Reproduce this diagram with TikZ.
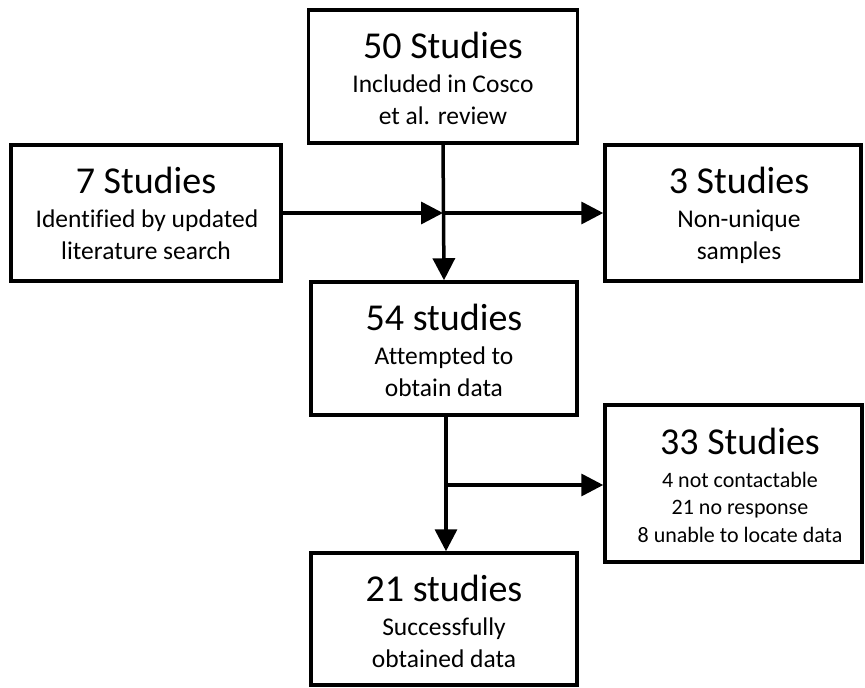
\documentclass[tikz,border=0pt]{standalone}
\usepackage{fontspec}
\setmainfont[Ligatures=NoCommon]{Carlito}
\usetikzlibrary{arrows.meta}
\tikzset{
  box/.style={draw=black, line width=3.5pt, inner sep=0pt, fill=white},
  ttl/.style={anchor=base, inner sep=0pt, font=\fontsize{38}{40}\selectfont},
  subt/.style={anchor=base, inner sep=0pt, font=\fontsize{25.5}{31}\selectfont},
  small/.style={anchor=base, inner sep=0pt, font=\fontsize{22}{25}\selectfont},
  conn/.style={line width=3.5pt, -{Triangle[length=22pt,width=22pt]}},
  plain/.style={line width=3.5pt}
}
\begin{document}
\begin{tikzpicture}[x=1pt,y=-1pt]
\useasboundingbox (0,0) rectangle (865,688);
% boxes
\node[box, minimum width=269pt, minimum height=133pt] (top) at (443,76.5) {};
\node[box, minimum width=270pt, minimum height=136pt] (left) at (146,213) {};
\node[box, minimum width=256pt, minimum height=136pt] (right) at (733,213) {};
\node[box, minimum width=266pt, minimum height=133pt] (mid) at (444,348.5) {};
\node[box, minimum width=257pt, minimum height=157pt] (excl) at (733.5,483.5) {};
\node[box, minimum width=266pt, minimum height=132pt] (final) at (444,619) {};
% texts
\node[ttl] (topt) at (443,58) {50 Studies};
\node[subt] (tops1) at (443,92) {Included in Cosco};
\node[subt] (tops2) at (443,124) {et al. review};
\node[ttl] (leftt) at (146,193) {7 Studies};
\node[subt] (lefts1) at (147,227) {Identified by updated};
\node[subt] (lefts2) at (146,259) {literature search};
\node[ttl] (rightt) at (739,193) {3 Studies};
\node[subt] (rights1) at (739,227) {Non-unique};
\node[subt] (rights2) at (739,259) {samples};
\node[ttl] (midt) at (444,330) {54 studies};
\node[subt] (mids1) at (444,364) {Attempted to};
\node[subt] (mids2) at (444,396) {obtain data};
\node[ttl] (exclt) at (740,454) {33 Studies};
\node[small] (excls1) at (740,487) {4 not contactable};
\node[small] (excls2) at (740,514) {21 no response};
\node[small] (excls3) at (740,542) {8 unable to locate data};
\node[ttl] (finalt) at (444,601) {21 studies};
\node[subt] (finals1) at (444,635) {Successfully};
\node[subt] (finals2) at (444,667) {obtained data};
% connectors
\coordinate (j1) at (top.south |- left.east);
\coordinate (j2) at (446,485);
\draw[conn] (top.south) -- (mid.north);
\draw[conn] (left.east) -- (j1);
\draw[conn] (j1) -- (right.west);
\draw[conn] (mid.south -| j2) -- (final.north -| j2);
\draw[conn] (j2) -- (excl.west |- j2);
\end{tikzpicture}
\end{document}
